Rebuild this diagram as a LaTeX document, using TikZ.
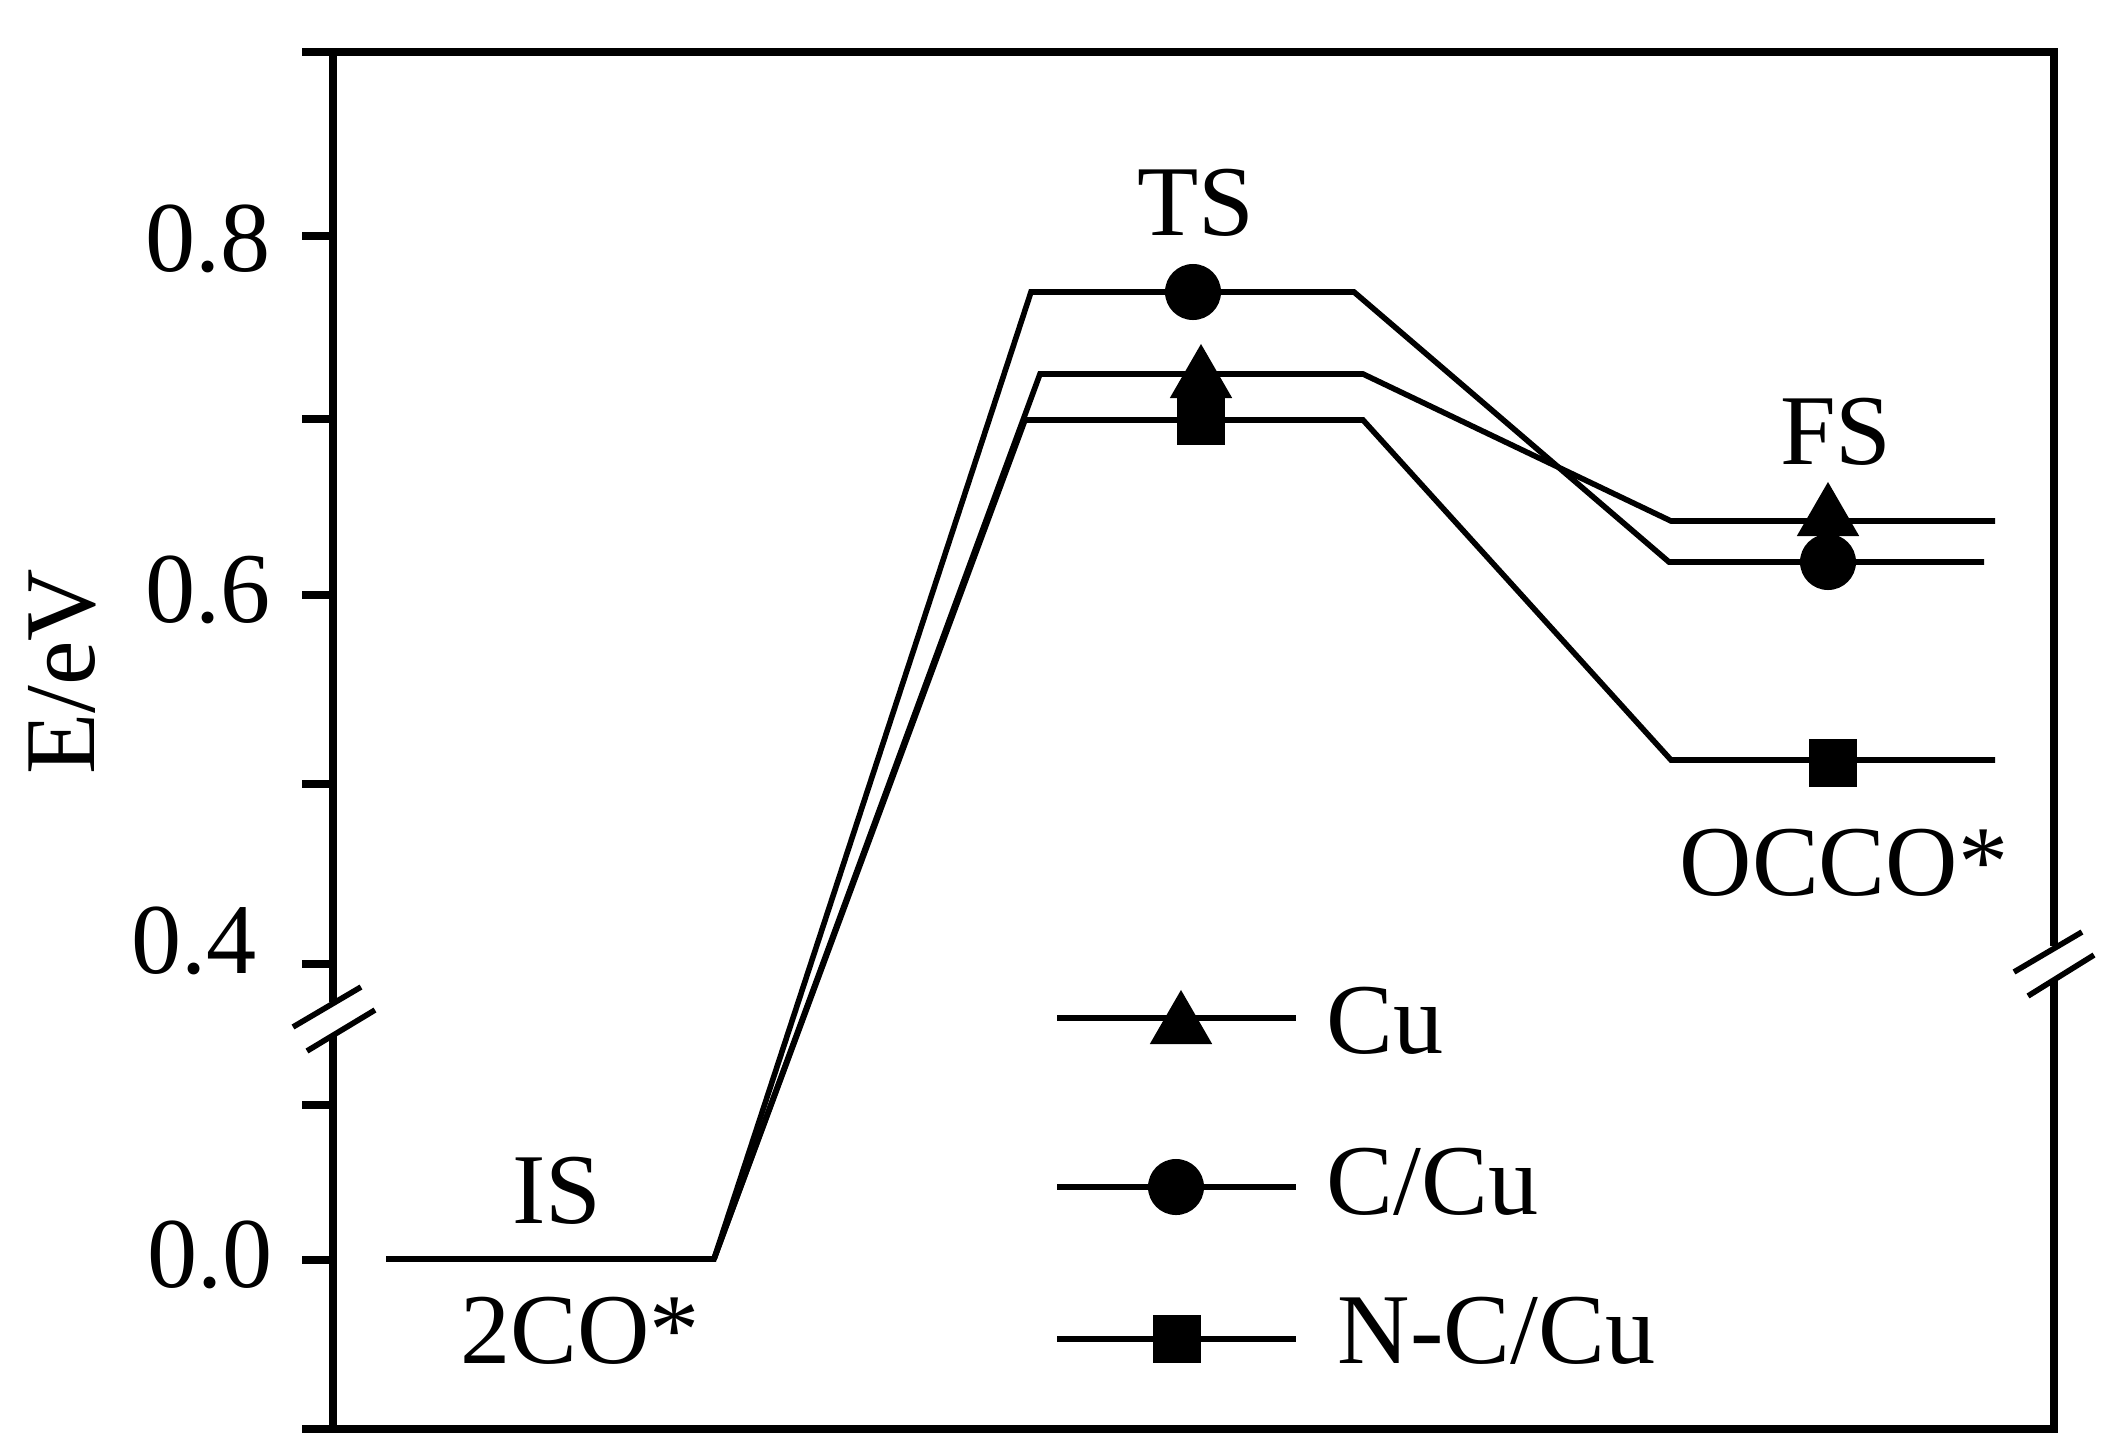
\documentclass[tikz,border=0pt]{standalone}
\usepackage{fontspec}
\setmainfont{Liberation Serif}
\usetikzlibrary{shapes.geometric}

\begin{document}
\begin{tikzpicture}[x=0.01cm,y=-0.01cm,
    txt/.style={font=\fontsize{28.5}{34}\selectfont,inner sep=0pt},
    axis/.style={line width=0.076cm},
    brk/.style={line width=0.056cm},
    level/.style={line width=0.056cm},
    mtri/.style={regular polygon,regular polygon sides=3,fill,inner sep=0pt,minimum size=0.72cm},
    mcirc/.style={circle,fill,inner sep=0pt,minimum size=0.56cm},
    msq/.style={rectangle,fill,inner sep=0pt,minimum size=0.48cm}]
                    \useasboundingbox(0,0)rectangle(2120,1445);

                    \draw[axis](302,52)--(2054,52)--(2054,946);
                    \draw[axis](302,1429)--(2054,1429)--(2054,980);
                    \draw[axis](333,52)--(333,1002);
                    \draw[axis](333,1036)--(333,1429);
                    \foreach \y in {236,419,595,784,964,1105,1260}
                        \draw[axis](302,\y)--(333,\y);
                    \draw[brk](293,1027)--(361,987);
                    \draw[brk](307,1051)--(375,1010);
                    \draw[brk](2014,972)--(2082,932);
                    \draw[brk](2028,996)--(2094,955);

                    \node[txt,anchor=base east](l08)at(271,271){0.8};
                    \node[txt,anchor=base east](l06)at(271,622){0.6};
                    \node[txt,anchor=base east](l04)at(257,973){0.4};
                    \node[txt,anchor=base east](l00)at(273,1287){0.0};
                    \node[txt,rotate=90,anchor=base](ylab)at(94,672){E/eV};

                    \coordinate(IS1)at(386,1259);
                    \coordinate(IS2)at(714,1259);
                    \coordinate(TSc1)at(1031,292);
                    \coordinate(TSc2)at(1354,292);
                    \coordinate(FSc1)at(1669,562);
                    \coordinate(FSc2)at(1984,562);
                    \coordinate(TSu1)at(1040,374);
                    \coordinate(TSu2)at(1363,374);
                    \coordinate(FSu1)at(1671,521);
                    \coordinate(FSu2)at(1995,521);
                    \coordinate(TSn1)at(1025,420);
                    \coordinate(TSn2)at(1363,420);
                    \coordinate(FSn1)at(1671,760);
                    \coordinate(FSn2)at(1995,760);
                    \draw[level](IS1)--(IS2)--(TSc1)--(TSc2)--(FSc1)--(FSc2);
                    \draw[level](IS2)--(TSu1)--(TSu2)--(FSu1)--(FSu2);
                    \draw[level](IS2)--(TSn1)--(TSn2)--(FSn1)--(FSn2);

                    \node[msq](TSn)at(1201,421){};
                    \node[mtri](TSu)at(1201,380){};
                    \node[mcirc](TSc)at(1193,292){};
                    \node[mtri](FSu)at(1828,518){};
                    \node[mcirc](FSc)at(1828,562){};
                    \node[msq](FSn)at(1833,763){};

                    \node[txt,anchor=base](IS)at(557,1223){IS};
                    \node[txt,anchor=base](CO)at(580,1363){2CO*};
                    \node[txt,anchor=base](TS)at(1196,235){TS};
                    \node[txt,anchor=base](FS)at(1836,464){FS};
                    \node[txt,anchor=base](OCCO)at(1844,895){OCCO*};

                    \coordinate(L1a)at(1057,1018);
                    \coordinate(L1b)at(1296,1018);
                    \draw[level](L1a)--(L1b);
                    \node[mtri](L1m)at(1181,1026){};
                    \node[txt,anchor=base west](L1t)at(1326,1053){Cu};

                    \coordinate(L2a)at(1057,1187);
                    \coordinate(L2b)at(1296,1187);
                    \draw[level](L2a)--(L2b);
                    \node[mcirc](L2m)at(1176,1187){};
                    \node[txt,anchor=base west](L2t)at(1326,1214){C/Cu};

                    \coordinate(L3a)at(1057,1339);
                    \coordinate(L3b)at(1296,1339);
                    \draw[level](L3a)--(L3b);
                    \node[msq](L3m)at(1177,1339){};
                    \node[txt,anchor=base west](L3t)at(1337,1363){N-C/Cu};
                \end{tikzpicture}
\end{document}
